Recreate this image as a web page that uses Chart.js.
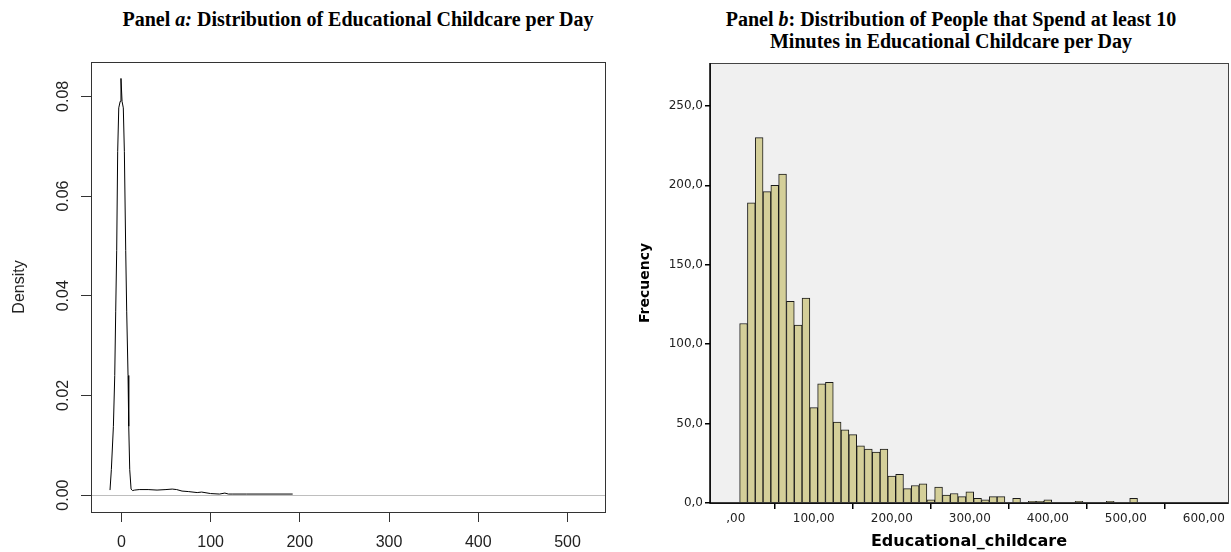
<!DOCTYPE html>
<html>
<head>
<meta charset="utf-8">
<script src="https://cdn.jsdelivr.net/npm/chart.js@4.4.0/dist/chart.umd.min.js"></script>
<style>
body{margin:0;background:#fff;width:1231px;height:552px;overflow:hidden;position:relative;}
.ttl{position:absolute;font-family:"Liberation Serif","Times New Roman",serif;font-weight:bold;font-size:20px;text-align:center;color:#000;line-height:22px;white-space:nowrap;}
#wa{position:absolute;left:0;top:0;width:615px;height:552px;}
#wb{position:absolute;left:615px;top:0;width:616px;height:552px;}
</style>
</head>
<body>
<div class="ttl" style="left:58px;top:8px;width:600px">Panel <i>a:</i> Distribution of Educational Childcare per Day</div>
<div class="ttl" style="left:651px;top:8px;width:600px">Panel <i>b</i>: Distribution of People that Spend at least 10<br>Minutes in Educational Childcare per Day</div>
<div id="wa"><canvas id="chartA"></canvas></div>
<div id="wb"><canvas id="chartB"></canvas></div>
<script>
// panel a: density curve (minutes per day)
var densityX = [-12.7, -11.2, -8.9, -7.4, -6.3, -5.2, -4.1, -2.9, -1.3, -0.4, 0.8, 2.2, 3.4, 4.9, 6.0, 7.5, 8.3, 9.4, 10.9, 12.5,
                15, 20, 30, 40, 50, 57, 62, 68, 75, 85, 90, 100, 110, 116, 120, 125, 140, 192];
var densityY = [0.0010, 0.0051, 0.0138, 0.0240, 0.0369, 0.0491, 0.0689, 0.0777, 0.0790, 0.0836, 0.0790, 0.0777, 0.0689, 0.0491, 0.0369, 0.0240, 0.0138, 0.0051, 0.0012, 0.0009,
                0.0010, 0.0011, 0.0011, 0.0010, 0.0011, 0.0012, 0.0011, 0.0008, 0.0007, 0.0005, 0.0006, 0.0003, 0.0002, 0.0004, 0.0002, 0.0002, 0.0002, 0.0002];
var densityTicksX = [0, 100, 200, 300, 400, 500];

// panel b: histogram, bin centres and counts
var binMid = [10, 20, 30, 40, 50, 60, 70, 80, 90, 100, 110, 120, 130, 140, 150, 160, 170, 180, 190, 200,
              210, 220, 230, 240, 250, 260, 270, 280, 290, 300, 310, 320, 330, 340, 360, 380, 390, 400, 440, 480, 510];
var binCount = [113, 189, 230, 196, 200, 207, 127, 112, 129, 60, 75, 76, 51, 46, 43, 36, 34, 32, 34, 17,
                18, 9, 11, 12, 2, 10, 5, 6, 4, 7, 3, 2, 4, 4, 3, 1, 1, 2, 1, 1, 3];

var rFont = '"Liberation Sans", Arial, sans-serif';
var spssFont = '"DejaVu Sans", sans-serif';

// R style box round the plot + grey line at zero
var rBox = {
  id: 'rBox',
  beforeDatasetsDraw: function(c){
    var a = c.chartArea, ctx = c.ctx, y0 = Math.round(c.scales.y.getPixelForValue(0)) + 0.5;
    ctx.save();
    ctx.strokeStyle = '#bebebe'; ctx.lineWidth = 1;
    ctx.beginPath(); ctx.moveTo(a.left, y0); ctx.lineTo(a.right, y0); ctx.stroke();
    ctx.restore();
  },
  afterDraw: function(c){
    var a = c.chartArea, ctx = c.ctx;
    ctx.save();
    ctx.strokeStyle = '#333'; ctx.lineWidth = 1;
    ctx.strokeRect(Math.round(a.left) + 0.5, Math.round(a.top) + 0.5, Math.round(a.right - a.left), Math.round(a.bottom - a.top));
    ctx.restore();
  }
};

// SPSS style grey panel
var spssPanel = {
  id: 'spssPanel',
  beforeDraw: function(c){
    var a = c.chartArea, ctx = c.ctx;
    ctx.save();
    ctx.fillStyle = '#f0f0f0';
    ctx.fillRect(a.left, a.top, a.right - a.left, a.bottom - a.top);
    ctx.restore();
  },
  afterDraw: function(c){
    var a = c.chartArea, ctx = c.ctx;
    ctx.save();
    ctx.strokeStyle = '#444'; ctx.lineWidth = 1;
    ctx.strokeRect(Math.round(a.left) + 0.5, Math.round(a.top) + 0.5, Math.round(a.right - a.left), Math.round(a.bottom - a.top));
    ctx.strokeStyle = '#000'; ctx.lineWidth = 1.5;
    ctx.beginPath();
    ctx.moveTo(a.left, a.top); ctx.lineTo(a.left, a.bottom); ctx.lineTo(a.right, a.bottom);
    ctx.stroke();
    ctx.restore();
  }
};

new Chart(document.getElementById('chartA'), {
  type: 'line',
  data: {
    datasets: [{
      data: densityX.map(function(x, i){ return {x: x, y: densityY[i]}; }),
      borderColor: '#000', borderWidth: 1, pointRadius: 0, tension: 0, fill: false
    }]
  },
  options: {
    animation: false, responsive: true, maintainAspectRatio: false,
    layout: {padding: {top: 62, right: 10, left: 0, bottom: 0}},
    plugins: {legend: {display: false}, tooltip: {enabled: false}},
    scales: {
      x: {
        type: 'linear', min: -34, max: 542,
        afterBuildTicks: function(s){ s.ticks = densityTicksX.map(function(v){ return {value: v}; }); },
        ticks: {font: {family: rFont, size: 16}, color: '#222', padding: 11, maxRotation: 0,
                callback: function(v){ return String(v); }},
        grid: {drawOnChartArea: false, tickLength: 10, color: '#333'},
        border: {display: false},
        afterFit: function(s){ s.height = 40; }
      },
      y: {
        type: 'linear', min: -0.0034, max: 0.0869,
        ticks: {stepSize: 0.02, includeBounds: false, minRotation: 90, maxRotation: 90, crossAlign: 'center',
                font: {family: rFont, size: 16}, color: '#222', padding: 2,
                callback: function(v){ return v.toFixed(2); }},
        grid: {drawOnChartArea: false, tickLength: 10, color: '#333'},
        border: {display: false},
        title: {display: true, text: 'Density', font: {family: rFont, size: 16}, color: '#222', padding: {top: 10, bottom: 0}},
        afterFit: function(s){ s.width = 91; }
      }
    }
  },
  plugins: [rBox]
});

new Chart(document.getElementById('chartB'), {
  type: 'bar',
  data: {
    datasets: [{
      data: binMid.map(function(x, i){ return {x: x, y: binCount[i]}; }),
      backgroundColor: '#d4cf99', borderColor: '#1a1a1a', borderWidth: 1,
      barPercentage: 1, categoryPercentage: 1
    }]
  },
  options: {
    animation: false, responsive: true, maintainAspectRatio: false,
    layout: {padding: {top: 63, right: 3, left: 0, bottom: 0}},
    plugins: {legend: {display: false}, tooltip: {enabled: false}},
    scales: {
      x: {
        type: 'linear', min: -33, max: 631, offset: false,
        ticks: {stepSize: 100, includeBounds: false, font: {family: spssFont, size: 12}, color: '#222', padding: 3, maxRotation: 0,
                callback: function(v){ return v === 0 ? ',00' : v.toFixed(2).replace('.', ','); }},
        grid: {drawOnChartArea: false, tickLength: 6, color: '#000', lineWidth: 1.5},
        border: {display: false},
        title: {display: true, text: 'Educational_childcare', font: {family: spssFont, size: 16, weight: 'bold'}, color: '#000', padding: {top: 0, bottom: 1}},
        afterFit: function(s){ s.height = 49; }
      },
      y: {
        type: 'linear', min: 0, max: 277,
        ticks: {stepSize: 50, includeBounds: false, font: {family: spssFont, size: 12}, color: '#222', padding: 2,
                callback: function(v){ return v.toFixed(1).replace('.', ','); }},
        grid: {drawOnChartArea: false, tickLength: 5, color: '#000', lineWidth: 1.5},
        border: {display: false},
        title: {display: true, text: 'Frecuency', font: {family: spssFont, size: 14, weight: 'bold'}, color: '#000', padding: {top: 22, bottom: 0}},
        afterFit: function(s){ s.width = 95; }
      }
    }
  },
  plugins: [spssPanel]
});
</script>
</body>
</html>
